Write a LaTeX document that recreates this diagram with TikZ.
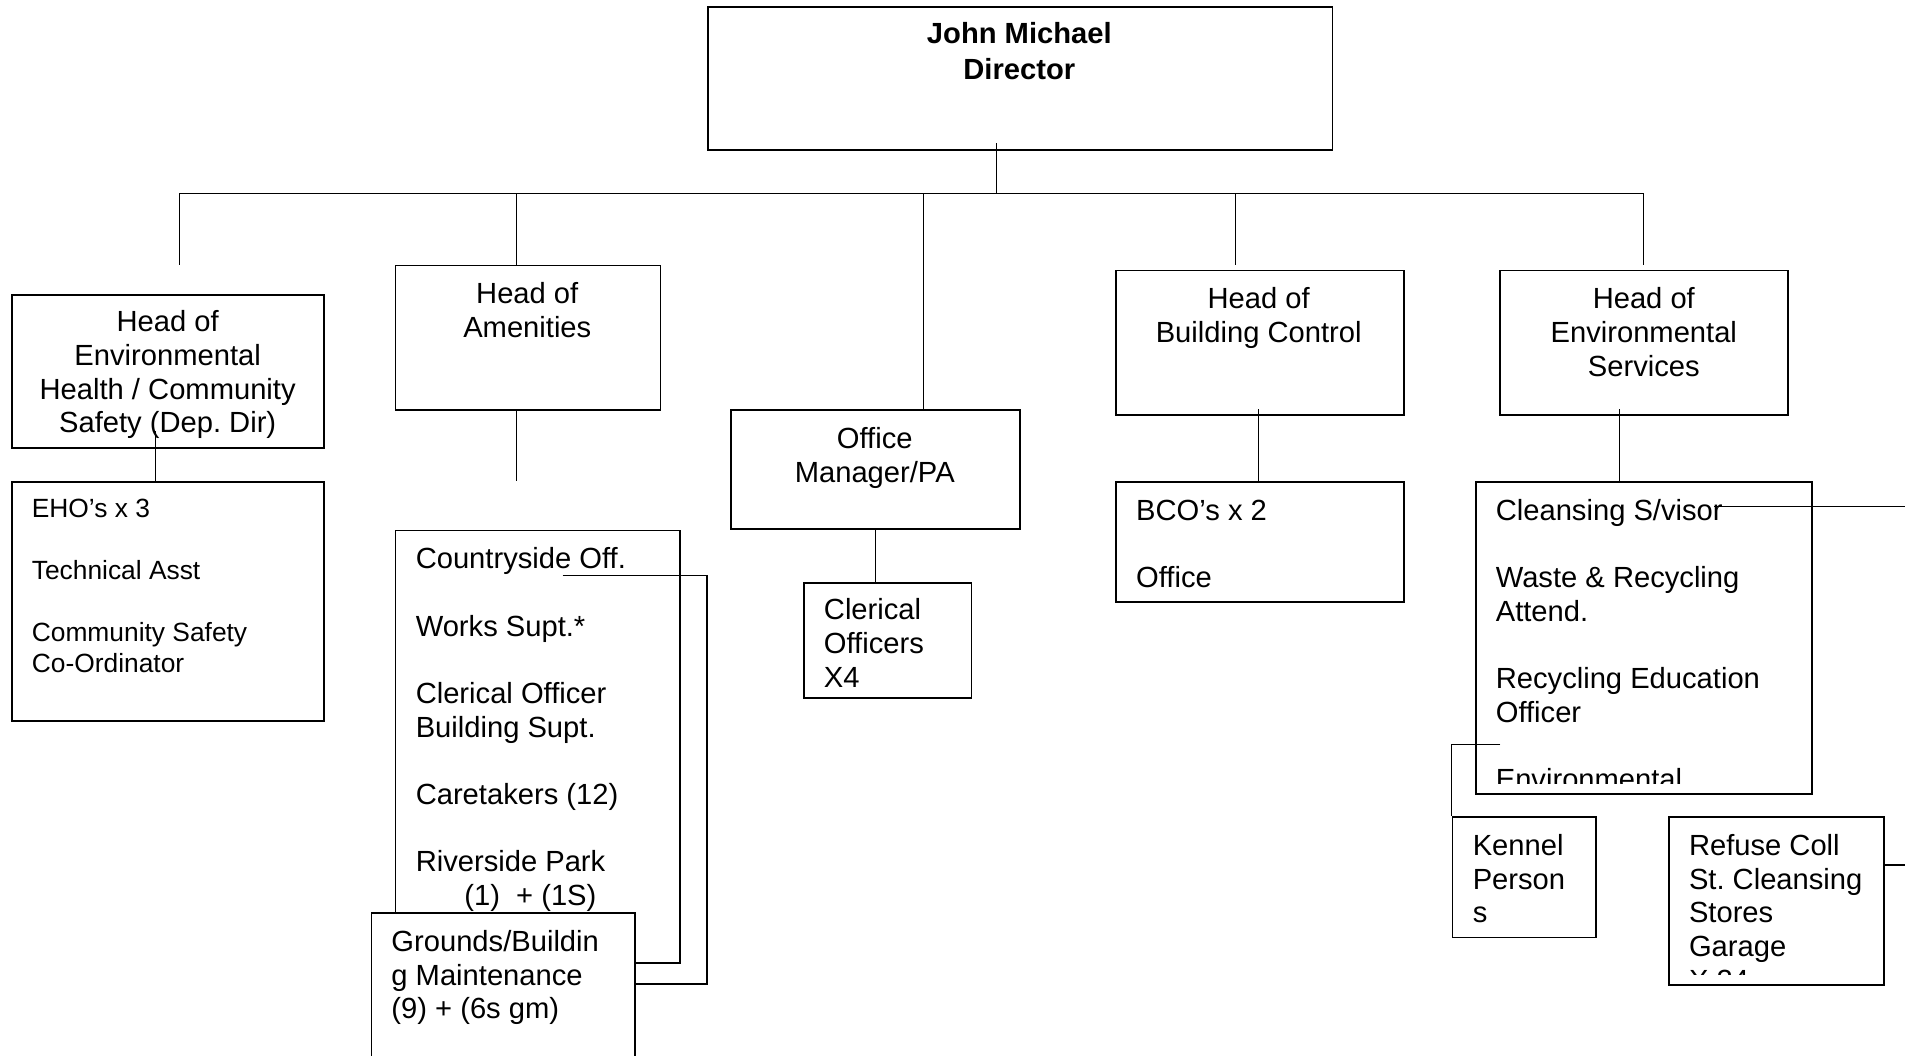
\documentclass[tikz,border=0pt]{standalone}
\usepackage{fontspec}
\setmainfont{Liberation Sans}
\frenchspacing
\newcommand\tstrut{\rule{0pt}{20pt}}
\newcommand\sstrut{\rule{0pt}{18pt}}
\begin{document}
\begin{tikzpicture}[x=1pt,y=-1pt,
  box/.style={draw, line width=1.3pt, fill=white, inner sep=0pt, anchor=north west},
  conn/.style={line width=1pt},
  big/.style={font=\fontsize{24}{27.7}\selectfont\frenchspacing, inner sep=0pt},
  bigb/.style={font=\fontsize{24}{29.5}\selectfont\bfseries, inner sep=0pt},
  small/.style={font=\fontsize{21.7}{25.5}\selectfont, inner sep=0pt}]
\useasboundingbox (0,0) rectangle (1568,869);
\fill[white] (0,0) rectangle (1568,869);

% ---- boxes and texts ----
\node[box, minimum width=514pt, minimum height=118pt] (dir) at (582,5) {};
\node[bigb, anchor=north, align=center] (dirt) at (839,16) {\tstrut John Michael\\Director};

\node[box, minimum width=257pt, minimum height=126pt] (eh) at (9,242) {};
\node[big, anchor=north, align=center] (eht) at (138,253) {\tstrut Head of\\Environmental\\Health / Community\\Safety (Dep. Dir)};

\node[box, minimum width=257pt, minimum height=197pt] (eho) at (9,396) {};
\node[small, anchor=north west, align=left] (ehot) at (26,407.5) {\sstrut EHO’s x 3\\ \\ Technical Asst\\ \\ Community Safety\\ Co-Ordinator};

\node[box, minimum width=218pt, minimum height=119pt] (amen) at (325,218) {};
\node[big, anchor=north, align=center] (ament) at (434,230) {\tstrut Head of\\Amenities};

\node[box, minimum width=234pt, minimum height=356pt] (country) at (325,436) {};
\node[big, anchor=north west, align=left] (countryt) at (342,448) {\tstrut Countryside Off.\\ \\ Works Supt.*\\ \\ Clerical Officer\\ Building Supt.\\ \\ Caretakers (12)\\ \\ Riverside Park\\ \hspace*{40pt}(1) \ + (1S)};

\node[box, minimum width=217pt, minimum height=135pt] (grounds) at (305,751) {};
\node[big, anchor=north west, align=left] (groundst) at (322,763) {\tstrut Grounds/Buildin\\g Maintenance\\(9) + (6s gm)};

\node[box, minimum width=238pt, minimum height=98pt] (office) at (601,337) {};
\node[big, anchor=north, align=center] (officet) at (720,349) {\tstrut Office\\Manager/PA};

\node[box, minimum width=138pt, minimum height=95pt] (cler) at (661,479) {};
\node[big, anchor=north west, align=left] (clert) at (678,490) {\tstrut Clerical\\Officers\\X4};

\node[box, minimum width=237pt, minimum height=119pt] (bc) at (918,222) {};
\node[big, anchor=north, align=center] (bct) at (1036,234) {\tstrut Head of\\Building Control};

\node[box, minimum width=237pt, minimum height=99pt] (bco) at (918,396) {};
\node[big, anchor=north west, align=left] (bcot) at (935,408) {\tstrut BCO’s x 2\\ \\ Office};

\node[box, minimum width=237pt, minimum height=119pt] (es) at (1234,222) {};
\node[big, anchor=north, align=center] (est) at (1353,234) {\tstrut Head of\\Environmental\\Services};

\node[box, minimum width=277pt, minimum height=257pt] (clean) at (1214,396) {};
\begin{scope}
\clip (1216,398) rectangle (1489,645);
\node[big, anchor=north west, align=left] (cleant) at (1231,408) {\tstrut Cleansing S/visor\\ \\ Waste \& Recycling\\ Attend.\\ \\ Recycling Education\\ Officer\\ \\ Environmental};
\end{scope}

\node[box, minimum width=118pt, minimum height=99pt] (kennel) at (1195,672) {};
\node[big, anchor=north west, align=left] (kennelt) at (1212,684) {\tstrut Kennel\\Person\\s};

\node[box, minimum width=177pt, minimum height=138pt] (refuse) at (1373,672) {};
\begin{scope}
\clip (1375,674) rectangle (1548,802);
\node[big, anchor=north west, align=left] (refuset) at (1390,684) {\tstrut Refuse Coll\\St. Cleansing\\Stores\\Garage\\X 24};
\end{scope}

% ---- connectors ----
\coordinate (bus) at (820,159);
\coordinate (dirl) at (820,118);
\coordinate (bl) at (148,159);
\coordinate (br) at (1353,159);
\coordinate (b2) at (425,159);
\coordinate (b3) at (760,159);
\coordinate (b4) at (1017,159);
\coordinate (ehend) at (148,218);
\coordinate (bcend) at (1017,218);
\coordinate (esend) at (1353,218);
\draw[conn] (dirl) -- (bus);
\draw[conn] (bl) -- (br);
\draw[conn] (bl) -- (ehend);
\draw[conn] (b2) -- (amen.north -| b2);
\draw[conn] (b3) -- (office.north -| b3);
\draw[conn] (b4) -- (bcend);
\draw[conn] (br) -- (esend);

\coordinate (e1) at (128,355);
\draw[conn] (e1) -- (eho.north -| e1);

\coordinate (amend) at (425,396);
\draw[conn] (amen.south -| amend) -- (amend);

\draw[conn] (office.south) -- (office.south |- cler.north);

\coordinate (c1) at (1036,337);
\draw[conn] (c1) -- (bco.north -| c1);

\coordinate (s1) at (1333,337);
\draw[conn] (s1) -- (clean.north -| s1);

\coordinate (cl1) at (1411,417);
\coordinate (cl2) at (1580,417);
\draw[conn] (cl1) -- (cl2);

\coordinate (k1) at (1235,613);
\draw[conn] (k1) -- (kennel.north west |- k1) -- (kennel.north west);

\coordinate (rf) at (1580,712);
\draw[conn] (refuse.east |- rf) -- (rf);

\coordinate (g1) at (463,474);
\coordinate (g2) at (582,810);
\draw[conn] (g1) -- (g1 -| g2) -- (g2) -- (grounds.east |- g2);
\end{tikzpicture}
\end{document}
